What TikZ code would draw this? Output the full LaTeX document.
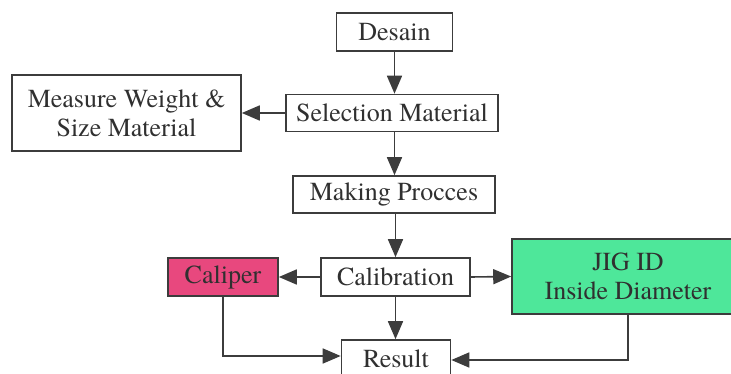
\documentclass[tikz,border=0pt]{standalone}
\usepackage{fontspec}
\setmainfont{texgyretermes}[Extension=.otf, UprightFont=*-regular, BoldFont=*-bold]
\usetikzlibrary{arrows.meta}
\definecolor{linecol}{HTML}{3C3C3C}
\definecolor{textcol}{HTML}{303030}
\definecolor{pinkfill}{HTML}{E8487E}
\definecolor{greenfill}{HTML}{4EE79A}
\tikzset{
  box/.style={draw=linecol, line width=1.6pt, fill=white, inner sep=0pt, align=center,
    text=textcol, font=\rmfamily\fontsize{26}{29}\selectfont},
  conn/.style={draw=linecol, line width=1.6pt, -{Triangle[length=18pt,width=15pt]}}
}
\begin{document}
\begin{tikzpicture}[x=1pt,y=-1pt]
\useasboundingbox (0,0) rectangle (731,374);
\node[box, minimum width=116pt, minimum height=38pt] (desain) at (394.5,32) {Desain};
\node[box, minimum width=212pt, minimum height=37pt] (sel) at (392,113) {Selection Material};
\node[box, minimum width=229pt, minimum height=76pt] (meas) at (126.5,113) {Measure Weight \&\\Size Material};
\node[box, minimum width=202pt, minimum height=37pt] (mak) at (394,194.5) {Making Procces};
\node[box, minimum width=149pt, minimum height=38pt] (cal) at (395.5,277) {Calibration};
\node[box, fill=pinkfill, minimum width=110pt, minimum height=38pt] (cap) at (223,277) {Caliper};
\node[box, fill=greenfill, minimum width=232pt, minimum height=75pt] (jig) at (628,276.5) {JIG ID\\Inside Diameter};
\node[box, minimum width=109pt, minimum height=38pt] (res) at (396,359) {Result};
\draw[conn] (desain.south) -- (desain.south |- sel.north);
\draw[conn] (sel.west) -- (meas.east);
\draw[conn] (desain.south |- sel.south) -- (desain.south |- mak.north);
\draw[conn] (cal.north |- mak.south) -- (cal.north);
\draw[conn] (cal.west) -- (cap.east);
\draw[conn] (cal.east) -- (jig.west);
\draw[conn] (cal.south) -- (cal.south |- res.north);
\draw[conn] (cap.south) |- ([yshift=3pt]res.west);
\draw[conn] (jig.south) |- ([yshift=-1pt]res.east);
\end{tikzpicture}
\end{document}
